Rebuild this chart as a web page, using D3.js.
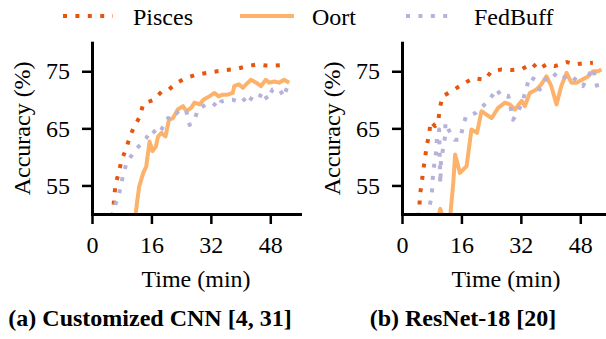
<!DOCTYPE html>
<html>
<head>
<meta charset="utf-8">
<script src="https://cdn.jsdelivr.net/npm/d3@7"></script>
<style>
  body { margin: 0; background: #fff; }
  svg { display: block; }
</style>
</head>
<body>
<div id="chart"></div>
<script>
// series names + colours
const seriesNames = ["Pisces", "Oort", "FedBuff"];
const seriesColors = ["#e6550d", "#fdb26b", "#b6b2d9"];
const xTicks = [0, 16, 32, 48];
const yTicks = [55, 65, 75];
const captions = ["(a) Customized CNN [4, 31]", "(b) ResNet-18 [20]"];

// (a) Customized CNN : [time (min), accuracy (%)]
const cnnPisces = [[5.4,49.5],[5.7,50.4],[6.0,53.2],[6.4,55.3],[7.2,57.3],[8.0,59.5],[9.3,61.6],[10.2,63.6],
  [11.3,65.2],[12.9,67.1],[13.8,69.3],[16.6,70.0],[18.7,71.4],[20.7,71.8],[22.5,72.8],[24.9,73.7],
  [27.6,74.3],[30.0,74.6],[32.7,74.9],[35.9,75.2],[38.8,75.4],[41.9,75.9],[44.6,76.2],[46.8,76.0],
  [49.5,76.0],[52.6,76.2]];
const cnnOort = [[11.6,49.0],[11.8,50.2],[12.1,51.9],[12.7,54.8],[13.8,57.2],[14.6,58.3],[15.5,62.7],[16.3,61.0],
  [17.2,61.8],[17.8,63.6],[18.7,64.2],[19.8,63.6],[20.7,66.5],[21.8,66.8],[23.1,68.3],[24.5,68.9],
  [25.4,68.0],[26.7,68.6],[27.6,69.5],[29.0,69.2],[30.0,70.0],[31.6,70.6],[33.0,71.2],[34.1,70.6],
  [35.2,70.9],[36.5,70.9],[37.9,71.2],[38.3,72.4],[39.5,72.7],[40.6,72.1],[41.5,72.7],[42.8,73.5],
  [44.2,73.0],[45.5,72.4],[46.8,73.5],[47.7,73.0],[49.1,73.2],[50.4,73.0],[51.7,73.5],[53.1,73.0]];
const cnnFedBuff = [[5.5,49.5],[5.7,50.4],[6.4,51.9],[7.1,52.8],[7.7,54.8],[8.4,56.9],[9.3,58.9],[11.1,60.7],
  [12.9,62.1],[14.6,63.3],[16.0,64.8],[17.8,63.9],[18.7,64.8],[20.5,66.8],[21.4,66.5],[23.6,68.3],
  [25.4,68.0],[26.3,65.6],[27.6,66.5],[28.5,68.3],[30.7,69.2],[32.5,69.5],[33.9,68.6],[34.8,69.7],
  [36.5,70.0],[37.9,70.0],[39.5,69.7],[40.6,70.3],[41.9,69.2],[43.2,70.6],[45.0,70.3],[45.9,71.5],
  [47.3,70.0],[48.6,71.8],[50.4,71.9],[51.7,70.5],[52.6,72.4]];

// (b) ResNet-18
const resPisces = [[4.5,49.5],[4.7,51.1],[4.8,53.2],[5.3,55.4],[5.7,57.6],[6.2,59.7],[6.6,61.8],[7.3,63.9],
  [7.7,66.2],[8.9,65.4],[9.8,66.5],[10.2,68.6],[10.9,70.6],[13.8,71.7],[16.5,72.8],[19.2,73.8],
  [22.3,73.5],[24.1,75.0],[26.8,75.3],[29.5,75.2],[32.4,75.4],[35.1,76.4],[36.7,75.3],[38.9,76.2],
  [41.1,75.9],[44.4,76.6],[46.5,76.2],[49.2,76.4],[51.4,76.5]];
const resOort = [[9.6,49.0],[10.3,50.9],[11.2,49.0],[12.9,49.0],[13.8,55.4],[14.3,60.4],[15.6,57.2],
  [17.4,58.4],[18.7,64.8],[20.2,64.2],[21.4,68.0],[24.1,66.8],[25.9,68.6],[27.7,69.5],[29.0,69.2],
  [30.4,68.3],[32.2,69.8],[33.1,68.9],[34.4,71.2],[36.2,71.8],[37.5,72.7],[38.9,74.1],[40.2,72.4],
  [41.6,69.2],[42.9,72.4],[44.3,74.7],[45.6,73.0],[47.0,73.0],[48.7,73.6],[50.1,74.1],[51.4,75.0],
  [52.8,75.0],[53.7,75.3]];
const resFedBuff = [[7.1,49.5],[7.3,51.0],[8.0,53.2],[8.2,55.3],[8.4,57.4],[8.9,59.6],[9.3,61.5],[9.4,63.6],
  [10.0,64.8],[10.2,58.7],[10.3,55.3],[10.4,57.1],[10.5,59.6],[11.1,61.5],[11.6,63.6],[11.7,66.0],
  [12.5,64.8],[14.2,63.0],[15.6,63.0],[16.3,65.0],[17.2,67.1],[19.9,67.7],[23.7,70.1],[25.4,71.9],
  [26.8,70.6],[28.6,70.7],[29.9,66.5],[31.3,68.0],[32.6,70.0],[33.5,72.1],[34.4,74.1],[35.8,73.5],
  [37.1,71.8],[38.9,73.8],[40.7,74.7],[42.5,73.5],[45.2,74.4],[48.7,72.4],[50.1,74.1],[51.4,75.6],
  [52.2,73.4],[52.8,71.5]];

const panels = [
  { left: 92, series: [cnnPisces, cnnOort, cnnFedBuff], caption: captions[0], capX: 150 },
  { left: 402, series: [resPisces, resOort, resFedBuff], caption: captions[1], capX: 463 }
];

const width = 606, height = 339;
const plotW = 208, plotTop = 42.7, plotBottom = 214;
const serif = "'Liberation Serif', 'Times New Roman', Times, 'DejaVu Serif', serif";

const svg = d3.select("#chart").append("svg")
    .attr("width", width)
    .attr("height", height)
    .attr("font-family", serif);

const dash = "4,8.4";
const dashes = [dash, null, dash];

// legend
const legendItems = [
  { x0: 63, x1: 113, tx: 133 },
  { x0: 240, x1: 294, tx: 312 },
  { x0: 406, x1: 455, tx: 474 }
];
legendItems.forEach((d, i) => {
  svg.append("line")
      .attr("x1", d.x0).attr("x2", d.x1)
      .attr("y1", 16).attr("y2", 16)
      .attr("stroke", seriesColors[i])
      .attr("stroke-width", 4)
      .attr("stroke-dasharray", dashes[i]);
  svg.append("text")
      .attr("x", d.tx).attr("y", 25)
      .attr("font-size", 24)
      .text(seriesNames[i]);
});

panels.forEach((p, pi) => {
  const x = d3.scaleLinear().domain([0, 56]).range([p.left, p.left + plotW]);
  const y = d3.scaleLinear().domain([50, 80]).range([plotBottom, plotTop]);

  const clipId = "clip" + pi;
  svg.append("clipPath").attr("id", clipId)
    .append("rect")
      .attr("x", p.left).attr("y", plotTop)
      .attr("width", plotW).attr("height", plotBottom - plotTop);

  const line = d3.line()
      .x(d => x(d[0]))
      .y(d => y(d[1]));

  const g = svg.append("g").attr("clip-path", `url(#${clipId})`);
  p.series.forEach((s, i) => {
    g.append("path")
        .datum(s)
        .attr("fill", "none")
        .attr("stroke", seriesColors[i])
        .attr("stroke-width", 4)
        .attr("stroke-linejoin", "round")
        .attr("stroke-dasharray", dashes[i])
        .attr("d", line);
  });

  const xAxis = svg.append("g")
      .attr("transform", `translate(0,${plotBottom})`)
      .call(d3.axisBottom(x).tickValues(xTicks).tickSize(10).tickSizeOuter(0).tickPadding(12));
  const yAxis = svg.append("g")
      .attr("transform", `translate(${p.left},0)`)
      .call(d3.axisLeft(y).tickValues(yTicks).tickSize(10).tickSizeOuter(0).tickPadding(12));

  [xAxis, yAxis].forEach(a => {
    a.attr("font-family", serif).attr("font-size", 24);
    a.select(".domain").attr("stroke-width", 3).attr("stroke-linecap", "square");
    a.selectAll(".tick line").attr("stroke-width", 2.5);
    a.selectAll(".tick text").attr("fill", "#000");
  });

  svg.append("text")
      .attr("x", p.left + plotW / 2).attr("y", 287)
      .attr("text-anchor", "middle")
      .attr("font-size", 24)
      .text("Time (min)");

  svg.append("text")
      .attr("transform", `translate(${p.left - 62},${(plotTop + plotBottom) / 2}) rotate(-90)`)
      .attr("text-anchor", "middle")
      .attr("font-size", 24)
      .text("Accuracy (%)");

  svg.append("text")
      .attr("x", p.capX).attr("y", 326)
      .attr("text-anchor", "middle")
      .attr("font-size", 24)
      .attr("font-weight", "bold")
      .text(p.caption);
});
</script>
</body>
</html>
